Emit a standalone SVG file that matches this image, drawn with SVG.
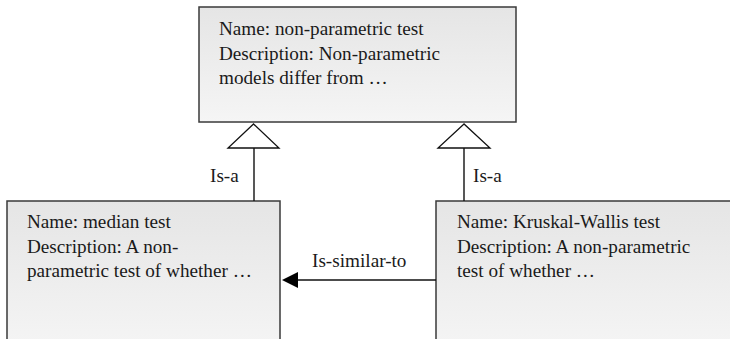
<svg xmlns="http://www.w3.org/2000/svg" width="730" height="339" viewBox="0 0 730 339">
  <defs>
    <linearGradient id="boxFill" x1="0" y1="0" x2="0" y2="1">
      <stop offset="0" stop-color="#e5e5e5"/>
      <stop offset="1" stop-color="#f5f5f5"/>
    </linearGradient>
  </defs>
  <style>
    .box { fill: url(#boxFill); stroke: #3a3a3a; stroke-width: 1.5; }
    .txt { font-family: "Liberation Serif", "Times New Roman", serif; font-size: 19.2px; fill: #1a1a1a; }
    .edge { stroke: #111; stroke-width: 1.4; fill: none; }
    .gen { fill: #fff; stroke: #111; stroke-width: 1.3; stroke-linejoin: miter; }
    .head { fill: #000; }
  </style>
  <rect width="730" height="339" fill="#fff"/>

  <g id="nonParametricTest">
    <rect class="box" x="199" y="7" width="317" height="115"/>
    <text class="txt" x="219" y="35">Name: non-parametric test</text>
    <text class="txt" x="219" y="59.5">Description: Non-parametric</text>
    <text class="txt" x="219" y="84">models differ from …</text>
  </g>

  <g id="medianTest">
    <rect class="box" x="7" y="201" width="273" height="150"/>
    <text class="txt" x="27" y="228">Name: median test</text>
    <text class="txt" x="27" y="252.5">Description: A non-</text>
    <text class="txt" x="27" y="277">parametric test of whether …</text>
  </g>

  <g id="kruskalWallisTest">
    <rect class="box" x="436" y="201" width="310" height="150"/>
    <text class="txt" x="457" y="228">Name: Kruskal-Wallis test</text>
    <text class="txt" x="457" y="252.5">Description: A non-parametric</text>
    <text class="txt" x="457" y="277">test of whether …</text>
  </g>

  <g id="connectors">
    <!-- median test is-a non-parametric test -->
    <line class="edge" x1="254" y1="201" x2="254" y2="148"/>
    <polygon class="gen" points="253.5,124 228,148 279,148"/>
    <text class="txt" x="210" y="182">Is-a</text>

    <!-- Kruskal-Wallis test is-a non-parametric test -->
    <line class="edge" x1="464" y1="201" x2="464" y2="148"/>
    <polygon class="gen" points="464,124 438,148 490,148"/>
    <text class="txt" x="473" y="182">Is-a</text>

    <!-- Kruskal-Wallis test is-similar-to median test -->
    <line class="edge" x1="436" y1="280" x2="297" y2="280"/>
    <path class="head" d="M282,280 L298,272 L298,288 Z"/>
    <text class="txt" x="312" y="267">Is-similar-to</text>
  </g>
</svg>
